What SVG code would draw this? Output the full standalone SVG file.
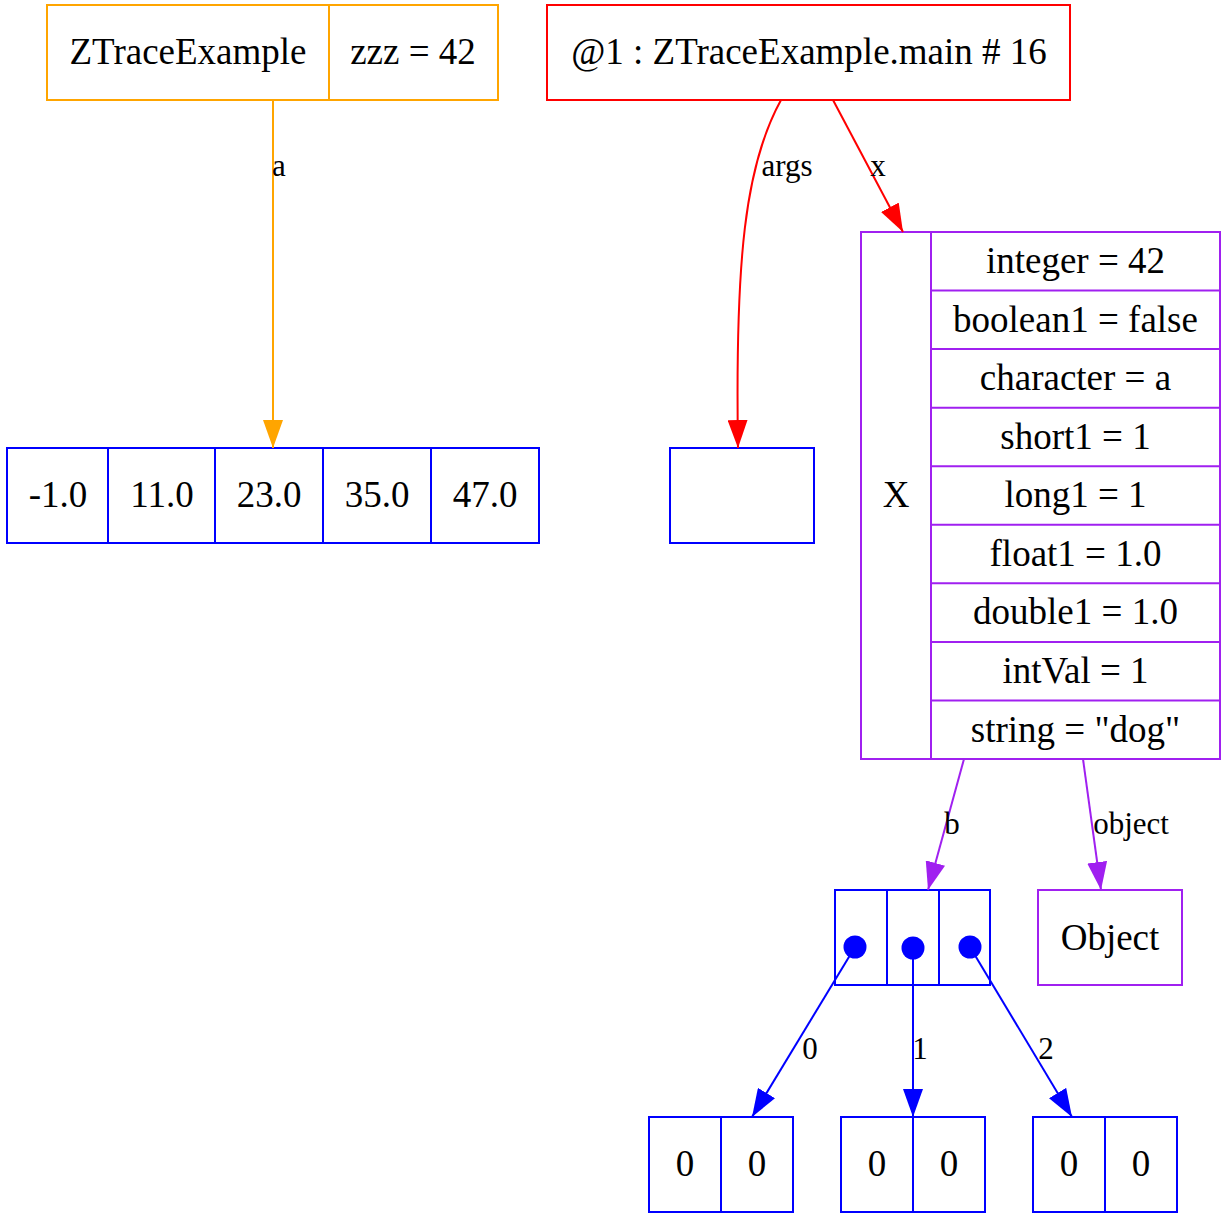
<svg xmlns="http://www.w3.org/2000/svg" width="1228" height="1214" viewBox="0 0 1228 1214">
<style>
  text { font-family: "Liberation Serif", "Times New Roman", serif; fill: #000; }
  .n { font-size: 37px; text-anchor: middle; }
  .e { font-size: 31px; text-anchor: middle; }
  .box { fill: #fff; stroke-width: 2; }
  .ln { fill: none; stroke-width: 2; }
  .orange { stroke: #ffa500; }
  .red { stroke: #ff0000; }
  .purple { stroke: #a020f0; }
  .blue { stroke: #0000ff; }
</style>
<defs>
  <marker id="aO" markerUnits="userSpaceOnUse" markerWidth="28" markerHeight="20" refX="28" refY="10" orient="auto"><path d="M0,0 L28,10 L0,20 z" fill="#ffa500"/></marker>
  <marker id="aR" markerUnits="userSpaceOnUse" markerWidth="28" markerHeight="20" refX="28" refY="10" orient="auto"><path d="M0,0 L28,10 L0,20 z" fill="#ff0000"/></marker>
  <marker id="aP" markerUnits="userSpaceOnUse" markerWidth="28" markerHeight="20" refX="28" refY="10" orient="auto"><path d="M0,0 L28,10 L0,20 z" fill="#a020f0"/></marker>
  <marker id="aB" markerUnits="userSpaceOnUse" markerWidth="28" markerHeight="20" refX="28" refY="10" orient="auto"><path d="M0,0 L28,10 L0,20 z" fill="#0000ff"/></marker>
</defs>
<rect width="1228" height="1214" fill="#fff"/>

<g id="ZTraceExample">
  <rect class="box orange" x="47" y="5" width="451" height="95"/>
  <line class="ln orange" x1="329" y1="5" x2="329" y2="100"/>
  <text class="n" x="188" y="64">ZTraceExample</text>
  <text class="n" x="413" y="64">zzz = 42</text>
</g>

<g id="main">
  <rect class="box red" x="547" y="5" width="523" height="95"/>
  <text class="n" x="809" y="64">@1 : ZTraceExample.main # 16</text>
</g>

<g id="doubles">
  <rect class="box blue" x="7" y="448" width="532" height="95"/>
  <line class="ln blue" x1="108" y1="448" x2="108" y2="543"/>
  <line class="ln blue" x1="215" y1="448" x2="215" y2="543"/>
  <line class="ln blue" x1="323" y1="448" x2="323" y2="543"/>
  <line class="ln blue" x1="431" y1="448" x2="431" y2="543"/>
  <text class="n" x="58" y="507">-1.0</text>
  <text class="n" x="162" y="507">11.0</text>
  <text class="n" x="269" y="507">23.0</text>
  <text class="n" x="377" y="507">35.0</text>
  <text class="n" x="485" y="507">47.0</text>
</g>

<g id="args">
  <rect class="box blue" x="670" y="448" width="144" height="95"/>
</g>

<g id="X">
  <rect class="box purple" x="861" y="232" width="359" height="527"/>
  <line class="ln purple" x1="931" y1="232" x2="931" y2="759"/>
  <line class="ln purple" x1="931" y1="290.6" x2="1220" y2="290.6"/>
  <line class="ln purple" x1="931" y1="349.1" x2="1220" y2="349.1"/>
  <line class="ln purple" x1="931" y1="407.7" x2="1220" y2="407.7"/>
  <line class="ln purple" x1="931" y1="466.2" x2="1220" y2="466.2"/>
  <line class="ln purple" x1="931" y1="524.8" x2="1220" y2="524.8"/>
  <line class="ln purple" x1="931" y1="583.3" x2="1220" y2="583.3"/>
  <line class="ln purple" x1="931" y1="641.9" x2="1220" y2="641.9"/>
  <line class="ln purple" x1="931" y1="700.4" x2="1220" y2="700.4"/>
  <text class="n" x="896" y="507">X</text>
  <text class="n" x="1075.5" y="273">integer = 42</text>
  <text class="n" x="1075.5" y="332">boolean1 = false</text>
  <text class="n" x="1075.5" y="390">character = a</text>
  <text class="n" x="1075.5" y="449">short1 = 1</text>
  <text class="n" x="1075.5" y="507">long1 = 1</text>
  <text class="n" x="1075.5" y="566">float1 = 1.0</text>
  <text class="n" x="1075.5" y="624">double1 = 1.0</text>
  <text class="n" x="1075.5" y="683">intVal = 1</text>
  <text class="n" x="1075.5" y="742">string = "dog"</text>
</g>

<g id="b">
  <rect class="box blue" x="835" y="890" width="155" height="95"/>
  <line class="ln blue" x1="887" y1="890" x2="887" y2="985"/>
  <line class="ln blue" x1="939" y1="890" x2="939" y2="985"/>
  <circle cx="855" cy="947" r="11.5" fill="#0000ff"/>
  <circle cx="913" cy="948" r="11.5" fill="#0000ff"/>
  <circle cx="970" cy="947" r="11.5" fill="#0000ff"/>
</g>

<g id="Object">
  <rect class="box purple" x="1038" y="890" width="144" height="95"/>
  <text class="n" x="1110" y="950">Object</text>
</g>

<g id="b0">
  <rect class="box blue" x="649" y="1117" width="144" height="95"/>
  <line class="ln blue" x1="721" y1="1117" x2="721" y2="1212"/>
  <text class="n" x="685" y="1176">0</text>
  <text class="n" x="757" y="1176">0</text>
</g>
<g id="b1">
  <rect class="box blue" x="841" y="1117" width="144" height="95"/>
  <line class="ln blue" x1="913" y1="1117" x2="913" y2="1212"/>
  <text class="n" x="877" y="1176">0</text>
  <text class="n" x="949" y="1176">0</text>
</g>
<g id="b2">
  <rect class="box blue" x="1033" y="1117" width="144" height="95"/>
  <line class="ln blue" x1="1105" y1="1117" x2="1105" y2="1212"/>
  <text class="n" x="1069" y="1176">0</text>
  <text class="n" x="1141" y="1176">0</text>
</g>

<g id="connectors">
  <path class="ln orange" d="M273,100 L273,448" marker-end="url(#aO)"/>
  <text class="e" x="279" y="176">a</text>
  <path class="ln red" d="M781,100 C745,165 735,260 738,448" marker-end="url(#aR)"/>
  <text class="e" x="787" y="176">args</text>
  <path class="ln red" d="M833,100 L903,232" marker-end="url(#aR)"/>
  <text class="e" x="878" y="176">x</text>
  <path class="ln purple" d="M964,759 L928,890" marker-end="url(#aP)"/>
  <text class="e" x="952" y="834">b</text>
  <path class="ln purple" d="M1083,759 L1101,890" marker-end="url(#aP)"/>
  <text class="e" x="1131" y="834">object</text>
  <path class="ln blue" d="M855,947 L752,1117" marker-end="url(#aB)"/>
  <text class="e" x="810" y="1059">0</text>
  <path class="ln blue" d="M913,947 L913,1117" marker-end="url(#aB)"/>
  <text class="e" x="920" y="1059">1</text>
  <path class="ln blue" d="M970,947 L1072,1117" marker-end="url(#aB)"/>
  <text class="e" x="1046" y="1059">2</text>
</g>
</svg>
